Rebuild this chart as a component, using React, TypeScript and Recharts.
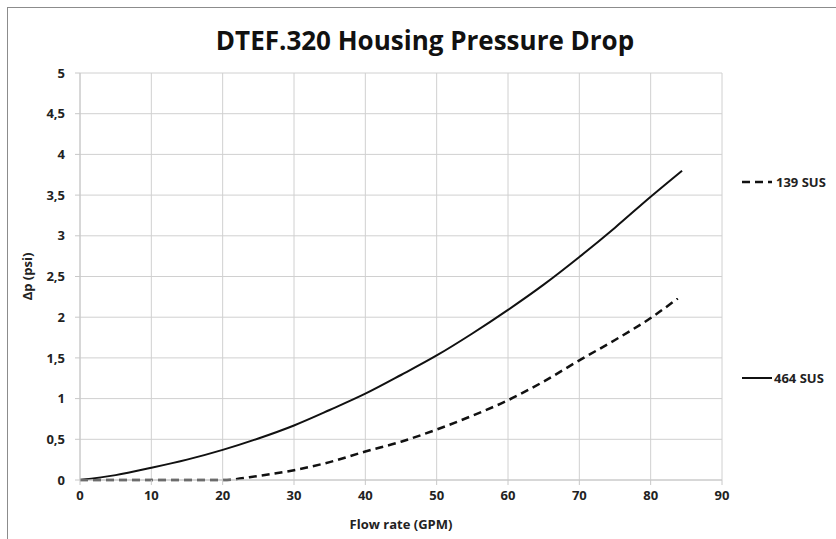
import React from 'react'
import { LineChart, Line, XAxis, YAxis, CartesianGrid } from 'recharts'

const flow464 = [0, 5, 10, 15, 20, 25, 30, 35, 40, 45, 50, 55, 60, 65, 70, 75, 80, 84.4]
const dp464 = [0, 0.06, 0.15, 0.25, 0.37, 0.51, 0.67, 0.86, 1.06, 1.29, 1.53, 1.8, 2.09, 2.4, 2.74, 3.1, 3.48, 3.8]

const flow139 = [0, 5, 10, 15, 20, 25, 30, 35, 40, 45, 50, 55, 60, 65, 70, 75, 80, 83.8]
const dp139 = [0, 0, 0, 0, 0, 0.05, 0.12, 0.22, 0.35, 0.47, 0.62, 0.79, 0.98, 1.21, 1.47, 1.72, 1.99, 2.23]

const xTicks = [0, 10, 20, 30, 40, 50, 60, 70, 80, 90]
const yTicks = [0, 0.5, 1, 1.5, 2, 2.5, 3, 3.5, 4, 4.5, 5]

const data464 = flow464.map((q, i) => ({ q, dp: dp464[i] }))
const data139 = flow139.map((q, i) => ({ q, dp: dp139[i] }))

const font = '"Open Sans", sans-serif'
const tickStyle = { fontFamily: font, fontSize: 13, fontWeight: 700, fill: '#222' }

// legend sits beside the plot, each entry level with its own spot
function LegendBox() {
  return (
    <div style={{ position: 'absolute', left: 740, top: 172, fontFamily: font, fontSize: 13, fontWeight: 700, color: '#222' }}>
      <div style={{ display: 'flex', alignItems: 'center', height: 20 }}>
        <svg width={34} height={4}>
          <line x1={2} y1={2} x2={32} y2={2} stroke="#111" strokeWidth={2.5} strokeDasharray="8 5" />
        </svg>
        <span style={{ marginLeft: 2 }}>139 SUS</span>
      </div>
      <div style={{ display: 'flex', alignItems: 'center', height: 20, marginTop: 176 }}>
        <svg width={34} height={4}>
          <line x1={2} y1={2} x2={32} y2={2} stroke="#111" strokeWidth={2} />
        </svg>
        <span>464 SUS</span>
      </div>
    </div>
  )
}

export default function App() {
  return (
    <div style={{ position: 'absolute', left: 0, top: 0, width: 836, height: 539, background: '#fff', overflow: 'hidden' }}>
      <div
        style={{
          position: 'absolute', left: 7, top: 7, width: 840, height: 540,
          borderLeft: '1px solid #8c8c8c', borderTop: '1px solid #8c8c8c',
        }}
      />
      <div
        style={{
          position: 'absolute', left: 0, top: 22, width: 850, textAlign: 'center',
          fontFamily: font, fontSize: 26, fontWeight: 700, color: '#111',
        }}
      >
        DTEF.320 Housing Pressure Drop
      </div>
      <div style={{ position: 'absolute', left: 0, top: 0 }}>
        <LineChart width={836} height={539} margin={{ top: 73, right: 114, bottom: 0, left: 0 }}>
          <CartesianGrid stroke="#d0d0d0" />
          <XAxis
            type="number"
            dataKey="q"
            domain={[0, 90]}
            ticks={xTicks}
            interval={0}
            height={59}
            tick={tickStyle}
            tickSize={5}
            tickMargin={6}
            stroke="#c8c8c8"
            allowDataOverflow
            label={{ value: 'Flow rate (GPM)', position: 'insideBottom', offset: 10, style: tickStyle }}
          />
          <YAxis
            type="number"
            domain={[0, 5]}
            ticks={yTicks}
            interval={0}
            width={80}
            tick={tickStyle}
            tickSize={5}
            tickMargin={10}
            stroke="#c8c8c8"
            tickFormatter={(v: number) => String(v).replace('.', ',')}
            label={{ value: 'Δp (psi)', angle: -90, position: 'insideLeft', offset: 27, style: { ...tickStyle, textAnchor: 'middle' } }}
          />
          <Line
            data={data139}
            dataKey="dp"
            type="monotone"
            stroke="#111"
            strokeWidth={2.5}
            strokeDasharray="8 5"
            dot={false}
            isAnimationActive={false}
            name="139 SUS"
          />
          <Line
            data={data464}
            dataKey="dp"
            type="monotone"
            stroke="#111"
            strokeWidth={2}
            dot={false}
            isAnimationActive={false}
            name="464 SUS"
          />
        </LineChart>
      </div>
      <LegendBox />
    </div>
  )
}
